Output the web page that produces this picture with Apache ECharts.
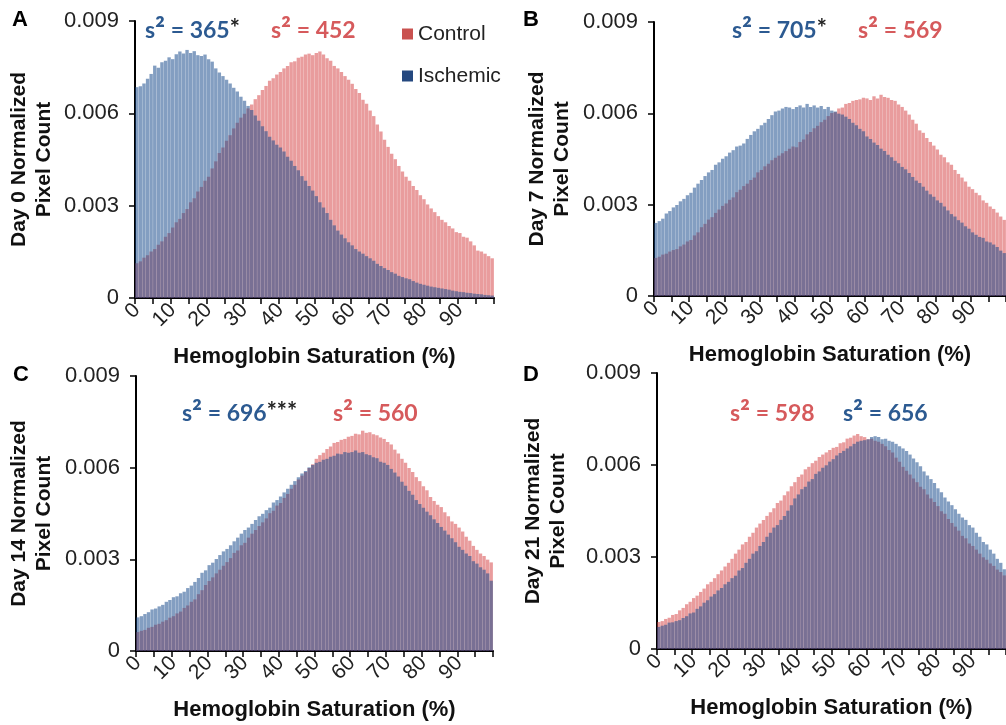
<!DOCTYPE html>
<html>
<head>
<meta charset="utf-8">
<script src="https://cdn.jsdelivr.net/npm/echarts@6/dist/echarts.min.js"></script>
<style>
  html, body { margin: 0; padding: 0; background: #fff; }
  #chart { width: 1006px; height: 725px; }
</style>
</head>
<body>
<div id="chart"></div>
<script>
// Hemoglobin saturation bins (%)
const categories = [
  '0','1','2','3','4','5','6','7','8','9','10','11','12','13','14','15','16','17','18','19',
  '20','21','22','23','24','25','26','27','28','29','30','31','32','33','34','35','36','37','38','39',
  '40','41','42','43','44','45','46','47','48','49','50','51','52','53','54','55','56','57','58','59',
  '60','61','62','63','64','65','66','67','68','69','70','71','72','73','74','75','76','77','78','79',
  '80','81','82','83','84','85','86','87','88','89','90','91','92','93','94','95','96','97','98','99'
];

// Normalized pixel counts, day 0
const controlDay0 = [
  0.00113,0.00119,0.00131,0.00139,0.00151,0.00159,0.00173,0.00184,0.00199,0.00211,
  0.00229,0.00246,0.00257,0.00276,0.00289,0.00311,0.00324,0.00346,0.00361,0.00381,
  0.00394,0.00421,0.00444,0.00471,0.00489,0.00511,0.00529,0.00551,0.00569,0.00586,
  0.00599,0.00616,0.00629,0.00646,0.00659,0.00676,0.00689,0.00706,0.00714,0.00726,
  0.00734,0.00746,0.00754,0.00766,0.00769,0.00781,0.00784,0.00791,0.00794,0.00789,
  0.00796,0.00801,0.00791,0.00779,0.00771,0.00754,0.00746,0.00734,0.00721,0.00709,
  0.00696,0.00679,0.00666,0.00644,0.00631,0.00609,0.00591,0.00564,0.00541,0.00514,
  0.00491,0.00469,0.00451,0.00429,0.00411,0.00394,0.00381,0.00364,0.00351,0.00334,
  0.00321,0.00304,0.00291,0.00279,0.00266,0.00254,0.00246,0.00234,0.00226,0.00214,
  0.00211,0.00199,0.00196,0.00184,0.00171,0.00154,0.00151,0.00144,0.00136,0.00129
];
const ischemicDay0 = [
  0.00685,0.00688,0.00697,0.00712,0.00728,0.00755,0.00748,0.00766,0.00771,0.00782,
  0.00776,0.00792,0.00801,0.00794,0.00806,0.00796,0.00802,0.00789,0.00786,0.00791,
  0.00776,0.00768,0.00746,0.00733,0.00721,0.00709,0.00697,0.00683,0.00671,0.00654,
  0.00641,0.00624,0.00611,0.00593,0.00576,0.00558,0.00542,0.00524,0.00512,0.00498,
  0.00489,0.00476,0.00459,0.00446,0.00429,0.00415,0.00396,0.00381,0.00364,0.00349,
  0.00331,0.00311,0.00294,0.00276,0.00254,0.00236,0.00219,0.00206,0.00194,0.00181,
  0.00171,0.00159,0.00151,0.00144,0.00136,0.00129,0.00121,0.00111,0.00104,0.00097,
  0.00091,0.00084,0.00079,0.00072,0.00068,0.00064,0.00061,0.00055,0.00050,0.00046,
  0.00043,0.00040,0.00037,0.00035,0.00033,0.00031,0.00029,0.00027,0.00024,0.00022,
  0.00020,0.00019,0.00017,0.00016,0.00014,0.00013,0.00012,0.00010,0.00009,0.00008
];

// Day 7
const controlDay7 = [
  0.00125,0.00129,0.00136,0.00139,0.00146,0.00151,0.00154,0.00163,0.00169,0.00179,
  0.00184,0.00199,0.00209,0.00226,0.00237,0.00251,0.00259,0.00273,0.00284,0.00296,
  0.00304,0.00316,0.00324,0.00341,0.00349,0.00361,0.00369,0.00381,0.00389,0.00406,
  0.00414,0.00426,0.00434,0.00446,0.00454,0.00461,0.00469,0.00476,0.00484,0.00491,
  0.00489,0.00506,0.00514,0.00531,0.00539,0.00551,0.00559,0.00571,0.00579,0.00591,
  0.00601,0.00604,0.00616,0.00619,0.00631,0.00634,0.00641,0.00644,0.00646,0.00651,
  0.00649,0.00644,0.00656,0.00649,0.00661,0.00654,0.00651,0.00644,0.00641,0.00629,
  0.00621,0.00609,0.00596,0.00579,0.00566,0.00544,0.00536,0.00519,0.00506,0.00494,
  0.00481,0.00464,0.00456,0.00439,0.00431,0.00414,0.00401,0.00389,0.00376,0.00359,
  0.00351,0.00339,0.00331,0.00314,0.00306,0.00294,0.00286,0.00274,0.00261,0.00250
];
const ischemicDay7 = [
  0.00240,0.00246,0.00254,0.00271,0.00279,0.00291,0.00299,0.00311,0.00319,0.00331,
  0.00339,0.00356,0.00369,0.00381,0.00394,0.00406,0.00414,0.00431,0.00439,0.00451,
  0.00459,0.00471,0.00479,0.00491,0.00494,0.00501,0.00516,0.00529,0.00541,0.00549,
  0.00561,0.00569,0.00581,0.00594,0.00606,0.00609,0.00616,0.00621,0.00619,0.00614,
  0.00621,0.00626,0.00619,0.00631,0.00621,0.00626,0.00619,0.00624,0.00614,0.00621,
  0.00609,0.00606,0.00599,0.00596,0.00589,0.00581,0.00569,0.00561,0.00549,0.00541,
  0.00524,0.00516,0.00504,0.00496,0.00484,0.00476,0.00464,0.00456,0.00444,0.00436,
  0.00424,0.00416,0.00404,0.00391,0.00379,0.00371,0.00359,0.00346,0.00334,0.00326,
  0.00314,0.00306,0.00294,0.00281,0.00269,0.00261,0.00249,0.00241,0.00229,0.00221,
  0.00209,0.00201,0.00194,0.00191,0.00179,0.00176,0.00169,0.00161,0.00149,0.00141
];

// Day 14
const controlDay14 = [
  0.00062,0.00066,0.00069,0.00076,0.00079,0.00086,0.00089,0.00096,0.00101,0.00109,
  0.00114,0.00123,0.00129,0.00141,0.00149,0.00161,0.00169,0.00186,0.00199,0.00216,
  0.00229,0.00241,0.00254,0.00266,0.00279,0.00291,0.00304,0.00321,0.00329,0.00346,
  0.00354,0.00371,0.00384,0.00396,0.00409,0.00421,0.00434,0.00451,0.00459,0.00476,
  0.00484,0.00501,0.00514,0.00531,0.00544,0.00561,0.00574,0.00586,0.00599,0.00611,
  0.00629,0.00641,0.00649,0.00661,0.00669,0.00681,0.00684,0.00691,0.00694,0.00701,
  0.00704,0.00711,0.00709,0.00721,0.00714,0.00716,0.00709,0.00706,0.00699,0.00694,
  0.00684,0.00676,0.00659,0.00646,0.00629,0.00616,0.00599,0.00586,0.00569,0.00556,
  0.00539,0.00526,0.00504,0.00491,0.00479,0.00471,0.00454,0.00441,0.00424,0.00416,
  0.00404,0.00391,0.00374,0.00361,0.00344,0.00331,0.00319,0.00311,0.00299,0.00290
];
const ischemicDay14 = [
  0.00110,0.00114,0.00121,0.00127,0.00136,0.00139,0.00146,0.00151,0.00161,0.00167,
  0.00176,0.00179,0.00189,0.00194,0.00206,0.00214,0.00226,0.00239,0.00256,0.00264,
  0.00281,0.00289,0.00301,0.00314,0.00326,0.00334,0.00346,0.00359,0.00371,0.00384,
  0.00396,0.00404,0.00416,0.00429,0.00441,0.00449,0.00461,0.00469,0.00486,0.00494,
  0.00506,0.00519,0.00531,0.00544,0.00556,0.00569,0.00581,0.00589,0.00601,0.00609,
  0.00616,0.00619,0.00626,0.00629,0.00636,0.00639,0.00646,0.00644,0.00651,0.00649,
  0.00651,0.00656,0.00649,0.00651,0.00644,0.00641,0.00634,0.00631,0.00619,0.00616,
  0.00609,0.00596,0.00584,0.00571,0.00554,0.00541,0.00524,0.00511,0.00494,0.00481,
  0.00469,0.00456,0.00444,0.00431,0.00419,0.00406,0.00394,0.00381,0.00369,0.00356,
  0.00341,0.00331,0.00319,0.00311,0.00294,0.00286,0.00274,0.00266,0.00254,0.00230
];

// Day 21
const controlDay21 = [
  0.00088,0.00091,0.00098,0.00102,0.00111,0.00114,0.00126,0.00134,0.00146,0.00154,
  0.00166,0.00174,0.00186,0.00197,0.00211,0.00219,0.00231,0.00244,0.00256,0.00269,
  0.00281,0.00294,0.00311,0.00324,0.00341,0.00349,0.00366,0.00379,0.00396,0.00409,
  0.00421,0.00434,0.00446,0.00459,0.00476,0.00484,0.00501,0.00514,0.00531,0.00544,
  0.00561,0.00569,0.00586,0.00594,0.00606,0.00614,0.00626,0.00634,0.00641,0.00649,
  0.00656,0.00659,0.00671,0.00674,0.00686,0.00689,0.00696,0.00701,0.00694,0.00691,
  0.00684,0.00686,0.00679,0.00676,0.00669,0.00661,0.00649,0.00641,0.00624,0.00611,
  0.00594,0.00581,0.00569,0.00556,0.00544,0.00529,0.00521,0.00504,0.00491,0.00479,
  0.00466,0.00449,0.00441,0.00424,0.00411,0.00399,0.00386,0.00369,0.00361,0.00344,
  0.00336,0.00324,0.00311,0.00299,0.00291,0.00279,0.00271,0.00259,0.00251,0.00240
];
const ischemicDay21 = [
  0.00072,0.00076,0.00079,0.00086,0.00087,0.00091,0.00094,0.00101,0.00107,0.00116,
  0.00119,0.00131,0.00139,0.00151,0.00159,0.00171,0.00179,0.00191,0.00199,0.00211,
  0.00219,0.00231,0.00239,0.00256,0.00264,0.00281,0.00294,0.00311,0.00319,0.00336,
  0.00349,0.00366,0.00379,0.00396,0.00404,0.00421,0.00434,0.00451,0.00469,0.00491,
  0.00504,0.00521,0.00529,0.00546,0.00554,0.00571,0.00579,0.00591,0.00599,0.00611,
  0.00619,0.00631,0.00639,0.00646,0.00654,0.00661,0.00669,0.00676,0.00679,0.00681,
  0.00684,0.00691,0.00694,0.00691,0.00684,0.00686,0.00679,0.00676,0.00669,0.00661,
  0.00654,0.00646,0.00634,0.00621,0.00609,0.00596,0.00579,0.00566,0.00554,0.00541,
  0.00524,0.00511,0.00494,0.00481,0.00469,0.00456,0.00441,0.00429,0.00421,0.00404,
  0.00396,0.00379,0.00366,0.00349,0.00341,0.00324,0.00311,0.00294,0.00281,0.00260
];

// Sample variances and significance marks per time point
const panelLetters = ['A', 'B', 'C', 'D'];
const dayLabels = ['Day 0', 'Day 7', 'Day 14', 'Day 21'];
const controlVariance = [452, 569, 560, 598];
const ischemicVariance = [365, 705, 696, 656];
const significance = ['*', '*', '***', ''];
const yTicks = [0, 0.003, 0.006, 0.009];

const controlSeries = [controlDay0, controlDay7, controlDay14, controlDay21];
const ischemicSeries = [ischemicDay0, ischemicDay7, ischemicDay14, ischemicDay21];

// Layout of the four panels
const layout = [
  { grid: { left: 135, top: 21, width: 359, height: 277 }, yGap: 78, letter: [12, 20],
    notes: { ischemic: [145, 31], control: [271, 31] } },
  { grid: { left: 654, top: 22, width: 352, height: 274 }, yGap: 79, letter: [523, 20],
    notes: { ischemic: [732, 31], control: [858, 31] } },
  { grid: { left: 136, top: 376, width: 357, height: 275 }, yGap: 79, letter: [13, 375],
    notes: { ischemic: [182, 414], control: [333, 414] } },
  { grid: { left: 657, top: 373, width: 351, height: 276 }, yGap: 86, letter: [523, 375],
    notes: { ischemic: [843, 414], control: [730, 414] } }
];

const CONTROL_FILL = 'rgba(214,72,74,0.54)';
const ISCHEMIC_FILL = 'rgba(26,76,140,0.54)';
const CONTROL_TEXT = '#D65A5C';
const ISCHEMIC_TEXT = '#2C5A91';
const AXIS_FONT = '"Liberation Sans", Arial, sans-serif';
const NOTE_FONT = 'Lato, "Open Sans", sans-serif';

const grids = [], xAxes = [], yAxes = [], series = [], graphics = [];

layout.forEach((p, i) => {
  grids.push(Object.assign({ containLabel: false }, p.grid));

  xAxes.push({
    type: 'category',
    gridIndex: i,
    data: categories,
    boundaryGap: true,
    name: 'Hemoglobin Saturation (%)',
    nameLocation: 'middle',
    nameGap: 48,
    nameTextStyle: { fontFamily: AXIS_FONT, fontWeight: 'bold', fontSize: 22, color: '#111' },
    axisLine: { show: true, lineStyle: { color: '#000', width: 2 } },
    axisTick: { show: true, interval: 4, length: 6, lineStyle: { color: '#000', width: 1.5 } },
    axisLabel: { interval: 9, rotate: 45, margin: 9, fontFamily: AXIS_FONT, fontSize: 21, color: '#222' },
    splitLine: { show: false }
  });

  yAxes.push({
    type: 'value',
    gridIndex: i,
    min: yTicks[0],
    max: yTicks[yTicks.length - 1],
    interval: 0.003,
    name: dayLabels[i] + ' Normalized\nPixel Count',
    nameLocation: 'middle',
    nameGap: p.yGap,
    nameTextStyle: { fontFamily: AXIS_FONT, fontWeight: 'bold', fontSize: 21, color: '#111', lineHeight: 25 },
    axisLine: { show: true, lineStyle: { color: '#000', width: 2 } },
    axisTick: { show: true, length: 6, lineStyle: { color: '#000', width: 1.5 } },
    axisLabel: {
      margin: 16, fontFamily: AXIS_FONT, fontSize: 22, color: '#222',
      formatter: v => (v === 0 ? '0' : v.toFixed(3))
    },
    splitLine: { show: false }
  });

  series.push({
    name: 'Control',
    type: 'bar',
    xAxisIndex: i,
    yAxisIndex: i,
    data: controlSeries[i],
    barGap: '-100%',
    barCategoryGap: '6%',
    itemStyle: { color: CONTROL_FILL },
    emphasis: { disabled: true }
  });
  series.push({
    name: 'Ischemic',
    type: 'bar',
    xAxisIndex: i,
    yAxisIndex: i,
    data: ischemicSeries[i],
    barGap: '-100%',
    barCategoryGap: '6%',
    itemStyle: { color: ISCHEMIC_FILL },
    emphasis: { disabled: true }
  });

  // panel letter
  graphics.push({
    type: 'text',
    x: p.letter[0], y: p.letter[1],
    style: {
      text: panelLetters[i], fill: '#000', verticalAlign: 'middle',
      font: 'bold 22px ' + AXIS_FONT
    }
  });

  // variance annotations
  const note = (value, mark, color, pos) => ({
    type: 'text',
    x: pos[0], y: pos[1],
    style: {
      text: '{v|s}{sq|\u00B2}{v| = ' + value + '}' + (mark ? '{m|' + mark + '}' : ''),
      verticalAlign: 'middle',
      rich: {
        v: { fill: color, fontFamily: NOTE_FONT, fontWeight: 'bold', fontSize: 23, lineHeight: 28 },
        sq: { fill: color, fontFamily: NOTE_FONT, fontWeight: 'bold', fontSize: 30, lineHeight: 28 },
        m: { fill: '#222', fontFamily: NOTE_FONT, fontWeight: 'bold', fontSize: 24, lineHeight: 28, verticalAlign: 'top' }
      }
    }
  });
  graphics.push(note(ischemicVariance[i], significance[i], ISCHEMIC_TEXT, p.notes.ischemic));
  graphics.push(note(controlVariance[i], '', CONTROL_TEXT, p.notes.control));
});

const chart = echarts.init(document.getElementById('chart'), null, { renderer: 'canvas' });
chart.setOption({
  animation: false,
  backgroundColor: '#fff',
  grid: grids,
  xAxis: xAxes,
  yAxis: yAxes,
  series: series,
  legend: {
    orient: 'vertical',
    left: 397,
    top: 18,
    itemWidth: 11,
    itemHeight: 11,
    itemGap: 20,
    icon: 'rect',
    textStyle: { fontFamily: AXIS_FONT, fontSize: 21, color: '#222', lineHeight: 22 },
    data: [
      { name: 'Control', itemStyle: { color: '#C9514F', opacity: 1 } },
      { name: 'Ischemic', itemStyle: { color: '#24487F', opacity: 1 } }
    ]
  },
  graphic: graphics
});
</script>
</body>
</html>
